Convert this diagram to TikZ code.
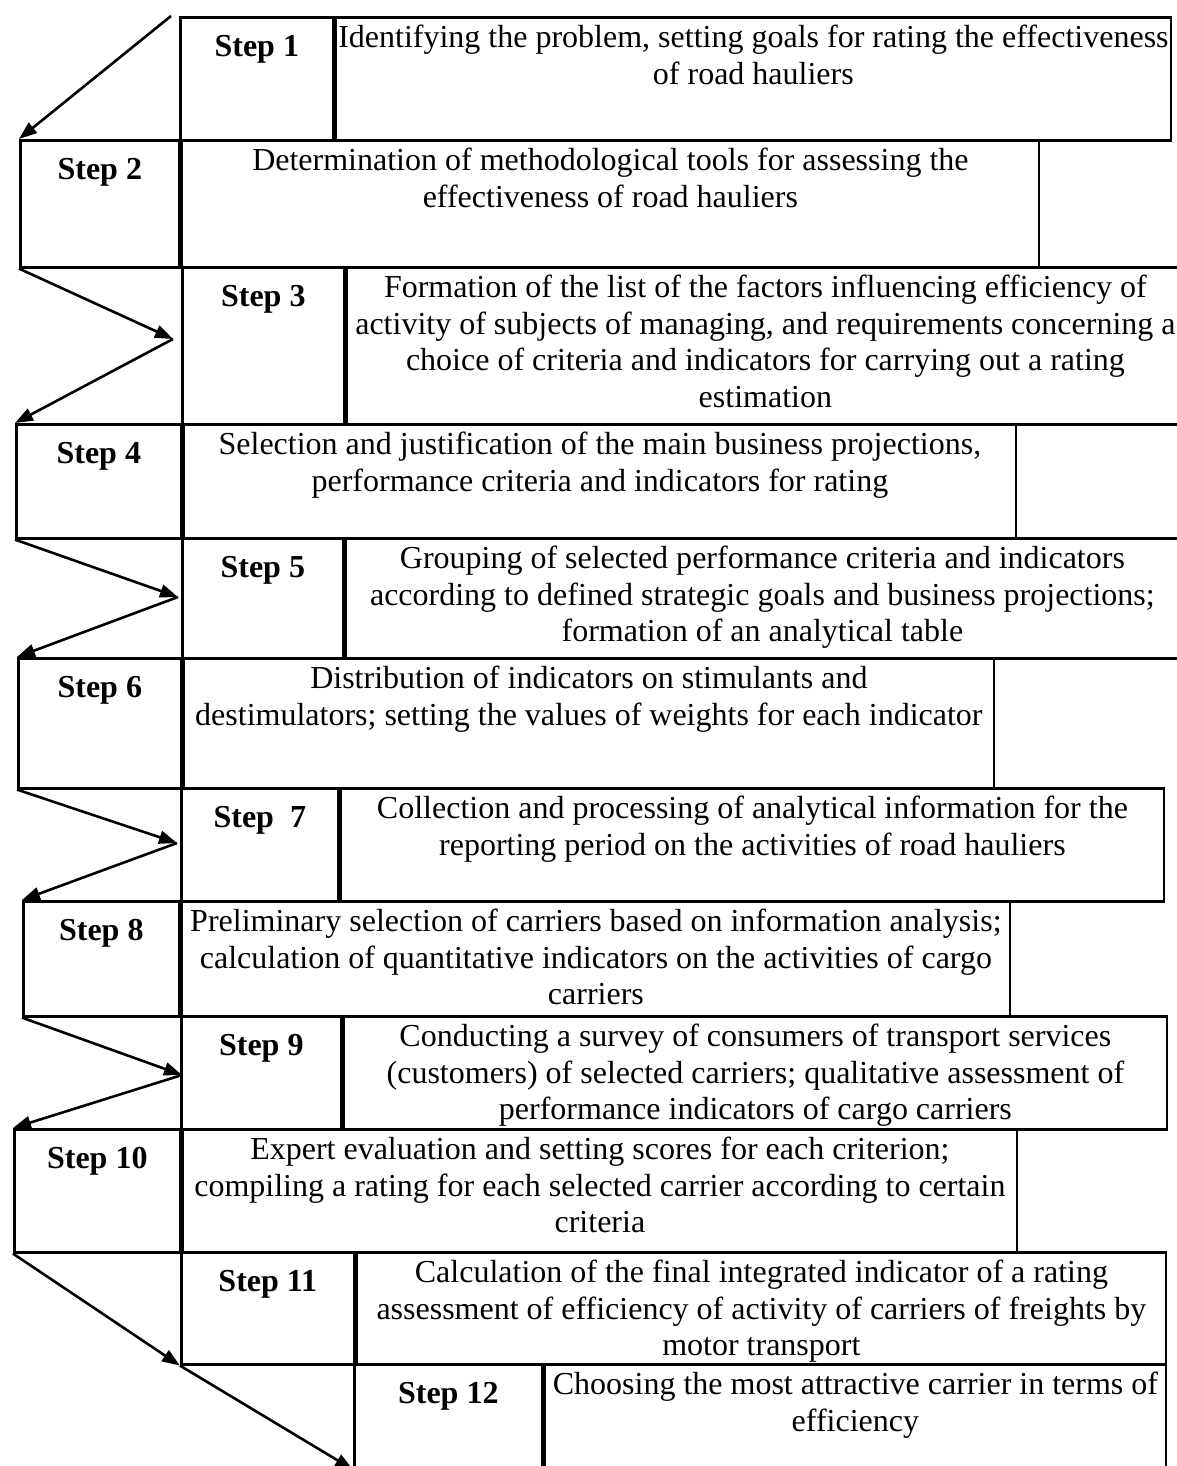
\documentclass[tikz,border=0pt]{standalone}
\usepackage{fontspec}
\setmainfont{Liberation Serif}
\usetikzlibrary{arrows.meta,calc}

\begin{document}
\fontsize{32}{36.5}\selectfont
\begin{tikzpicture}[x=1pt,y=-1pt,
  box/.style={draw,line width=2.6pt,anchor=north west,inner sep=0pt},
  steplabel/.style={anchor=north,font=\bfseries,inner sep=0pt,yshift=-19pt},
  steptext/.style={anchor=north,align=center,inner sep=0pt,yshift=-9pt},
  zig/.style={line width=2.6pt,-{Triangle[length=18pt,width=13pt]}}]

\useasboundingbox (0,0) rectangle (1176,1466);

% rows of the procedure
\node[box,minimum width=153pt,minimum height=123pt] (s1) at (179,16) {};
\node[box,minimum width=835pt,minimum height=123pt] (t1) at (s1.north east) {};
\node[steplabel] (l1) at (s1.north) {Step 1};
\node[steptext] (d1) at (t1.north) {Identifying the problem, setting goals for rating the effectiveness\\ of road hauliers};

\node[box,minimum width=159pt,minimum height=127pt] (s2) at (19,139) {};
\node[box,minimum width=857pt,minimum height=127pt] (t2) at (s2.north east) {};
\node[steplabel] (l2) at (s2.north) {Step 2};
\node[steptext] (d2) at (t2.north) {Determination of methodological tools for assessing the\\ effectiveness of road hauliers};

\node[box,minimum width=162pt,minimum height=157pt] (s3) at (181,266) {};
\node[box,minimum width=837pt,minimum height=157pt] (t3) at (s3.north east) {};
\node[steplabel] (l3) at (s3.north) {Step 3};
\node[steptext] (d3) at (t3.north) {Formation of the list of the factors influencing efficiency of\\ activity of subjects of managing, and requirements concerning a\\ choice of criteria and indicators for carrying out a rating\\ estimation};

\node[box,minimum width=165pt,minimum height=114pt] (s4) at (15,423) {};
\node[box,minimum width=832pt,minimum height=114pt] (t4) at (s4.north east) {};
\node[steplabel] (l4) at (s4.north) {Step 4};
\node[steptext] (d4) at (t4.north) {Selection and justification of the main business projections,\\ performance criteria and indicators for rating};

\node[box,minimum width=161pt,minimum height=120pt] (s5) at (181,537) {};
\node[box,minimum width=833pt,minimum height=120pt] (t5) at (s5.north east) {};
\node[steplabel] (l5) at (s5.north) {Step 5};
\node[steptext] (d5) at (t5.north) {Grouping of selected performance criteria and indicators\\ according to defined strategic goals and business projections;\\ formation of an analytical table};

\node[box,minimum width=163pt,minimum height=130pt] (s6) at (17,657) {};
\node[box,minimum width=810pt,minimum height=130pt] (t6) at (s6.north east) {};
\node[steplabel] (l6) at (s6.north) {Step 6};
\node[steptext] (d6) at (t6.north) {Distribution of indicators on stimulants and\\ destimulators; setting the values of weights for each indicator};

\node[box,minimum width=157pt,minimum height=113pt] (s7) at (180,787) {};
\node[box,minimum width=823pt,minimum height=113pt] (t7) at (s7.north east) {};
\node[steplabel] (l7) at (s7.north) {Step\ \ 7};
\node[steptext] (d7) at (t7.north) {Collection and processing of analytical information for the\\ reporting period on the activities of road hauliers};

\node[box,minimum width=156pt,minimum height=115pt] (s8) at (22,900) {};
\node[box,minimum width=828pt,minimum height=115pt] (t8) at (s8.north east) {};
\node[steplabel] (l8) at (s8.north) {Step 8};
\node[steptext] (d8) at (t8.north) {Preliminary selection of carriers based on information analysis;\\ calculation of quantitative indicators on the activities of cargo\\ carriers};

\node[box,minimum width=160pt,minimum height=113pt] (s9) at (180,1015) {};
\node[box,minimum width=823pt,minimum height=113pt] (t9) at (s9.north east) {};
\node[steplabel] (l9) at (s9.north) {Step 9};
\node[steptext] (d9) at (t9.north) {Conducting a survey of consumers of transport services\\ (customers) of selected carriers; qualitative assessment of\\ performance indicators of cargo carriers};

\node[box,minimum width=166pt,minimum height=123pt] (s10) at (13,1128) {};
\node[box,minimum width=834pt,minimum height=123pt] (t10) at (s10.north east) {};
\node[steplabel] (l10) at (s10.north) {Step 10};
\node[steptext] (d10) at (t10.north) {Expert evaluation and setting scores for each criterion;\\ compiling a rating for each selected carrier according to certain\\ criteria};

\node[box,minimum width=173pt,minimum height=112pt] (s11) at (180,1251) {};
\node[box,minimum width=809pt,minimum height=112pt] (t11) at (s11.north east) {};
\node[steplabel] (l11) at (s11.north) {Step 11};
\node[steptext] (d11) at (t11.north) {Calculation of the final integrated indicator of a rating\\ assessment of efficiency of activity of carriers of freights by\\ motor transport};

\node[box,minimum width=188pt,minimum height=112pt] (s12) at (353,1363) {};
\node[box,minimum width=621pt,minimum height=112pt] (t12) at (s12.north east) {};
\node[steplabel] (l12) at (s12.north) {Step 12};
\node[steptext] (d12) at (t12.north) {Choosing the most attractive carrier in terms of\\ efficiency};

% zigzag
\coordinate (a0) at (171,16);
\coordinate (p3) at (173,339);
\coordinate (p5) at (178,597);
\coordinate (p7) at (177,843);
\coordinate (p9) at (182,1075);

\draw[zig] (a0) -- (s2.north west);
\draw[zig] (s2.south west) -- (p3);
\draw[zig] (p3) -- (s4.north west);
\draw[zig] (s4.south west) -- (p5);
\draw[zig] (p5) -- (s6.north west);
\draw[zig] (s6.south west) -- (p7);
\draw[zig] (p7) -- (s8.north west);
\draw[zig] (s8.south west) -- (p9);
\draw[zig] (p9) -- (s10.north west);
\draw[zig] (s10.south west) -- (s11.south west);
\draw[zig] (s11.south west) -- ($(s12.south west)+(0,-8)$);

\end{tikzpicture}
\end{document}
